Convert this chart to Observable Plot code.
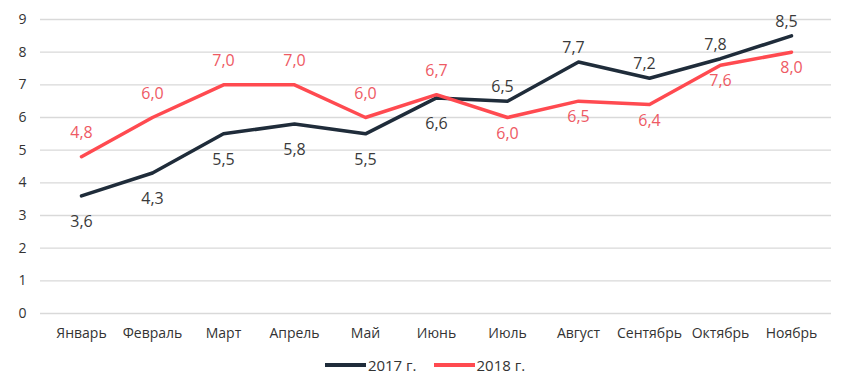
<!DOCTYPE html>
<html>
<head>
<meta charset="utf-8">
<script src="https://cdn.jsdelivr.net/npm/d3@7"></script>
<script src="https://cdn.jsdelivr.net/npm/@observablehq/plot@0.6"></script>
<style>
  body { margin: 0; background: #fff; font-family: "Open Sans", sans-serif; }
  #legend { display: flex; justify-content: center; align-items: center; gap: 17px; font-size: 15px; color: #333; height: 36px; margin-top: 2px; }
  .item { display: flex; align-items: center; }
  .sw { width: 41px; height: 4px; margin-right: 2px; }
</style>
</head>
<body>
<div id="chart"></div>
<div id="legend"></div>
<script>
const months = ["Январь","Февраль","Март","Апрель","Май","Июнь","Июль","Август","Сентябрь","Октябрь","Ноябрь"];
const values2017 = [3.6, 4.3, 5.5, 5.8, 5.5, 6.6, 6.5, 7.7, 7.2, 7.8, 8.5];
const values2018 = [4.8, 6.0, 7.0, 7.0, 6.0, 6.7, 6.0, 6.5, 6.4, 7.6, 8.0];
const seriesNames = ["2017 г.", "2018 г."];
const yTicks = [0,1,2,3,4,5,6,7,8,9];

const lineColors = ["#1f2c3a", "#ff4a50"];
const labelColors = ["#3a3a3a", "#ee5a64"];

const rows = [];
months.forEach((m, i) => {
  const a = values2017[i], b = values2018[i];
  const near = i >= 6; // labels sit closer to the line after the crossing
  rows.push({month: m, value: a, series: seriesNames[0], above: a > b, near});
  rows.push({month: m, value: b, series: seriesNames[1], above: b >= a, near});
});
const fmt = v => v.toFixed(1).replace(".", ",");
const labelFill = d => labelColors[seriesNames.indexOf(d.series)];

const plot = Plot.plot({
  width: 850,
  height: 345,
  marginTop: 19,
  marginBottom: 32,
  marginLeft: 40,
  marginRight: 19,
  style: { fontFamily: "Open Sans, sans-serif", fontSize: "14px", color: "#333", background: "#fff" },
  x: { type: "point", domain: months, padding: 0.5, label: null, tickSize: 0, tickPadding: 15 },
  y: { domain: [0, 9], ticks: yTicks, label: null, tickSize: 0, tickPadding: 14, tickFormat: d => d },
  color: { domain: seriesNames, range: lineColors },
  marks: [
    Plot.gridY(yTicks, { stroke: "#d9d9d9", strokeOpacity: 1, strokeWidth: 1.3 }),
    Plot.line(rows, { x: "month", y: "value", z: "series", stroke: "series", strokeWidth: 3.5, strokeLinejoin: "round" }),
    Plot.text(rows.filter(d => d.above && !d.near), { x: "month", y: "value", text: d => fmt(d.value), dy: -24, fill: labelFill, fontSize: 16 }),
    Plot.text(rows.filter(d => !d.above && !d.near), { x: "month", y: "value", text: d => fmt(d.value), dy: 26, fill: labelFill, fontSize: 16 }),
    Plot.text(rows.filter(d => d.above && d.near), { x: "month", y: "value", text: d => fmt(d.value), dy: -14, dx: -5, fill: labelFill, fontSize: 16 }),
    Plot.text(rows.filter(d => !d.above && d.near), { x: "month", y: "value", text: d => fmt(d.value), dy: 16, fill: labelFill, fontSize: 16 })
  ]
});
document.getElementById("chart").appendChild(plot);

const legend = document.getElementById("legend");
seriesNames.forEach((s, i) => {
  const it = document.createElement("div");
  it.className = "item";
  it.innerHTML = `<span class="sw" style="background:${lineColors[i]}"></span><span>${s}</span>`;
  legend.appendChild(it);
});
</script>
</body>
</html>
